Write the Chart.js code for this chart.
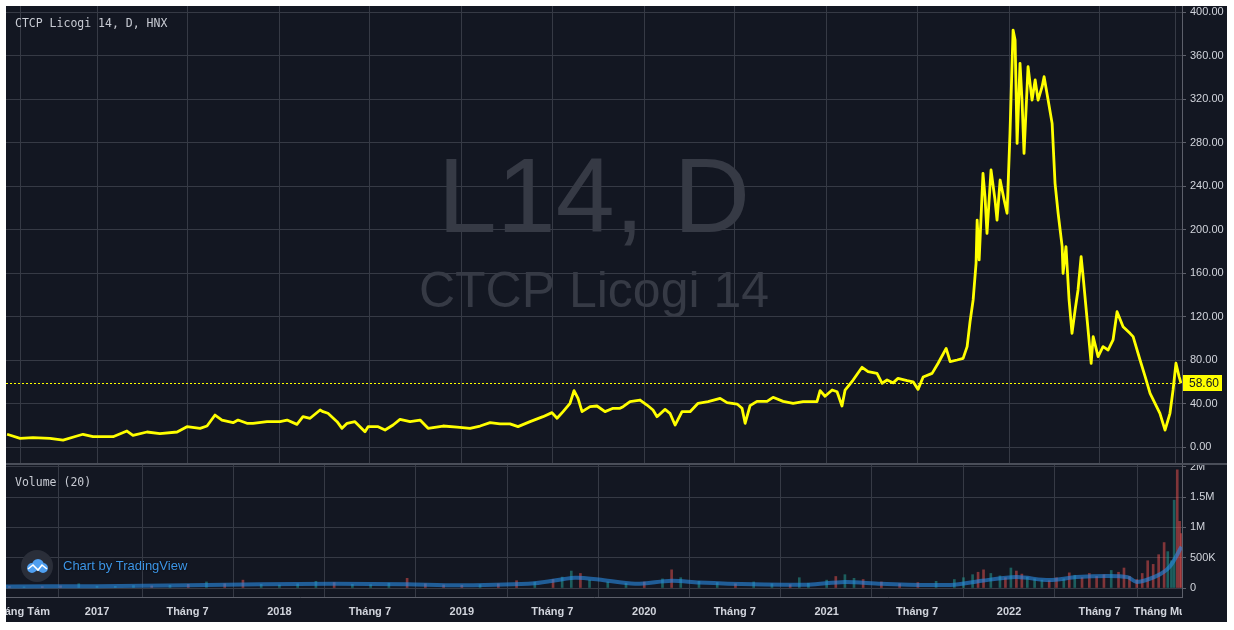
<!DOCTYPE html>
<html>
<head>
<meta charset="utf-8">
<title>L14, D</title>
<script src="https://cdn.jsdelivr.net/npm/chart.js@4.4.0/dist/chart.umd.min.js"></script>
<style>
  html, body { margin: 0; padding: 0; background: #ffffff; }
  #wrap { position: absolute; left: 6px; top: 6px; width: 1221px; height: 616px; background: #131722; overflow: hidden; }
  #priceChart { position: absolute; left: 0; top: 0; }
  #volChart { position: absolute; left: 0; top: 457px; }
</style>
</head>
<body>
<div id="wrap">
  <canvas id="priceChart" width="1221" height="457"></canvas>
  <canvas id="volChart" width="1221" height="159"></canvas>
</div>
<script>
// Giá đóng cửa (decimal year / price)
var dates = [
  2016.507, 2016.578, 2016.649, 2016.742, 2016.814, 2016.890, 2016.923, 2016.978, 2017.088, 2017.164,
  2017.197, 2017.274, 2017.345, 2017.439, 2017.493, 2017.565, 2017.603, 2017.647, 2017.685, 2017.746,
  2017.773, 2017.822, 2017.855, 2017.932, 2018.003, 2018.042, 2018.096, 2018.129, 2018.168, 2018.223,
  2018.239, 2018.266, 2018.316, 2018.343, 2018.371, 2018.414, 2018.469, 2018.486, 2018.541, 2018.579,
  2018.623, 2018.661, 2018.716, 2018.771, 2018.815, 2018.897, 2018.974, 2019.045, 2019.100, 2019.155,
  2019.209, 2019.264, 2019.308, 2019.374, 2019.445, 2019.494, 2019.522, 2019.555, 2019.593, 2019.615,
  2019.637, 2019.659, 2019.703, 2019.741, 2019.785, 2019.829, 2019.867, 2019.884, 2019.922, 2019.977,
  2020.015, 2020.048, 2020.070, 2020.114, 2020.141, 2020.169, 2020.207, 2020.251, 2020.295, 2020.350,
  2020.416, 2020.454, 2020.509, 2020.536, 2020.553, 2020.580, 2020.618, 2020.673, 2020.706, 2020.761,
  2020.816, 2020.871, 2020.947, 2020.964, 2020.991, 2021.030, 2021.057, 2021.084, 2021.101, 2021.145,
  2021.194, 2021.227, 2021.276, 2021.304, 2021.331, 2021.364, 2021.391, 2021.441, 2021.474, 2021.501,
  2021.529, 2021.578, 2021.611, 2021.655, 2021.677, 2021.715, 2021.748, 2021.770, 2021.786, 2021.803,
  2021.819, 2021.825, 2021.836, 2021.857, 2021.868, 2021.879, 2021.901, 2021.923, 2021.934, 2021.951,
  2021.973, 2021.989, 2022.005, 2022.022, 2022.033, 2022.044, 2022.060, 2022.071, 2022.082, 2022.104,
  2022.126, 2022.143, 2022.159, 2022.181, 2022.192, 2022.214, 2022.236, 2022.252, 2022.269, 2022.291,
  2022.296, 2022.312, 2022.329, 2022.345, 2022.362, 2022.378, 2022.395, 2022.406, 2022.428, 2022.450,
  2022.461, 2022.488, 2022.515, 2022.543, 2022.570, 2022.592, 2022.625, 2022.663, 2022.680, 2022.718,
  2022.746, 2022.773, 2022.800, 2022.827, 2022.855, 2022.882, 2022.899, 2022.915, 2022.932, 2022.943
];
var closes = [
  11.7, 8.0, 8.6, 8.0, 6.4, 10.1, 11.7, 9.5, 9.5, 14.7,
  10.7, 13.8, 12.3, 13.8, 18.7, 17.2, 19.3, 29.4, 24.8, 22.4,
  24.8, 21.8, 21.8, 23.3, 23.3, 24.8, 20.8, 27.9, 26.4, 34.0,
  32.5, 31.0, 23.3, 17.2, 21.8, 23.3, 14.1, 18.7, 18.7, 15.6,
  20.2, 25.4, 23.3, 24.8, 17.2, 19.3, 18.2, 17.2, 19.3, 22.4,
  21.3, 21.3, 18.7, 23.3, 27.9, 31.6, 26.4, 32.5, 40.2, 51.8,
  44.7, 32.5, 37.1, 37.7, 32.5, 35.6, 35.6, 37.1, 41.7, 43.2,
  38.6, 34.0, 27.9, 34.6, 31.0, 20.2, 32.5, 32.5, 40.2, 41.7,
  44.7, 40.8, 39.5, 35.6, 21.8, 38.0, 42.0, 42.0, 45.7, 42.0,
  40.2, 41.7, 41.7, 51.8, 46.7, 52.4, 50.8, 37.7, 52.4, 61.6,
  73.3, 69.3, 67.7, 58.6, 61.6, 59.0, 63.1, 61.0, 60.0, 53.0,
  64.4, 67.7, 77.0, 90.7, 78.5, 80.0, 81.5, 92.3, 115.2, 135.2,
  168.9, 208.7, 172.0, 251.6, 230.2, 196.5, 254.7, 227.1, 208.7, 245.5,
  227.1, 214.9, 288.4, 383.4, 374.3, 279.2, 352.8, 319.0, 270.0, 349.7,
  319.0, 337.5, 319.0, 331.3, 340.5, 319.0, 297.6, 242.5, 214.9, 184.2,
  159.7, 184.2, 135.2, 104.5, 126.0, 144.4, 175.0, 156.6, 116.8, 76.9,
  101.5, 83.1, 92.3, 89.2, 98.4, 124.4, 110.6, 104.5, 101.5, 80.0,
  64.7, 49.3, 40.2, 31.0, 15.6, 31.0, 52.4, 77.0, 64.7, 58.6
];

// Khối lượng (nghìn cp)
var volDates = [
  2016.52, 2016.60, 2016.70, 2016.80, 2016.90, 2017.00, 2017.10, 2017.20, 2017.30, 2017.40,
  2017.50, 2017.60, 2017.70, 2017.80, 2017.90, 2018.00, 2018.10, 2018.20, 2018.30, 2018.40,
  2018.50, 2018.60, 2018.70, 2018.80, 2018.90, 2019.00, 2019.10, 2019.20, 2019.30, 2019.40,
  2019.50, 2019.55, 2019.60, 2019.65, 2019.70, 2019.80, 2019.90, 2020.00, 2020.10, 2020.15,
  2020.20, 2020.30, 2020.40, 2020.50, 2020.60, 2020.70, 2020.80, 2020.85, 2020.90, 2021.00,
  2021.05, 2021.10, 2021.15, 2021.20, 2021.30, 2021.40, 2021.50, 2021.60, 2021.70, 2021.75,
  2021.80, 2021.83, 2021.86, 2021.90, 2021.95, 2021.98, 2022.01, 2022.04, 2022.07, 2022.10,
  2022.14, 2022.18, 2022.22, 2022.26, 2022.30, 2022.33, 2022.36, 2022.40, 2022.44, 2022.48,
  2022.52, 2022.56, 2022.60, 2022.63, 2022.66, 2022.70, 2022.73, 2022.76, 2022.79, 2022.82,
  2022.85, 2022.87, 2022.89, 2022.905, 2022.922, 2022.935, 2022.945
];
var volumes = [
  25, 18, 22, 35, 70, 30, 28, 40, 35, 45,
  60, 100, 70, 130, 60, 50, 70, 110, 90, 60,
  55, 80, 160, 70, 50, 45, 55, 70, 120, 100,
  140, 180, 280, 240, 130, 100, 80, 100, 150, 300,
  170, 110, 90, 70, 100, 70, 55, 170, 80, 130,
  190, 220, 160, 140, 100, 70, 90, 110, 140, 170,
  220, 260, 300, 240, 200, 170, 330, 280, 230, 180,
  150, 130, 120, 170, 150, 250, 210, 170, 240, 190,
  220, 290, 260, 330, 190, 140, 240, 450, 390, 550,
  750, 600, 450, 1450, 1950, 1100, 900
];
var maDates = [
  2016.50, 2017.00, 2017.50, 2017.90, 2018.30, 2018.70, 2019.00, 2019.40, 2019.62, 2019.75,
  2019.95, 2020.15, 2020.30, 2020.60, 2020.90, 2021.10, 2021.30, 2021.68, 2021.85, 2022.04,
  2022.22, 2022.37, 2022.54, 2022.65, 2022.70, 2022.81, 2022.88, 2022.945
];
var volMA = [
  25, 30, 45, 60, 70, 60, 45, 80, 170, 140,
  70, 120, 90, 60, 55, 100, 70, 50, 120, 180,
  130, 180, 200, 180, 100, 200, 350, 680
];

// Trục
var priceTicks = [0, 40, 80, 120, 160, 200, 240, 280, 320, 360, 400];
var volTicks = [0, 500, 1000, 1500, 2000];
var volTickLabels = ['0', '500K', '1M', '1.5M', '2M'];
var timeTicks = [2016.581, 2017, 2017.496, 2018, 2018.496, 2019, 2019.496, 2020, 2020.496, 2021, 2021.496, 2022, 2022.496, 2022.915];
var timeLabels = ['Tháng Tám', '2017', 'Tháng 7', '2018', 'Tháng 7', '2019', 'Tháng 7', '2020', 'Tháng 7', '2021', 'Tháng 7', '2022', 'Tháng 7', 'Tháng Mười Hai'];

var xMin = 2016.501, xMax = 2022.948;
var gridColor = '#363a45';
var borderColor = '#5d606b';
var textColor = '#d1d4dc';
var axisFont = '"Liberation Sans", Arial, sans-serif';
var lastPrice = closes[closes.length - 1];

var pricePoints = dates.map(function(d, i) { return { x: d, y: closes[i] }; });
var volPoints = volDates.map(function(d, i) { return { x: d, y: volumes[i] }; });
var maPoints = maDates.map(function(d, i) { return { x: d, y: volMA[i] }; });

// màu cột khối lượng theo hướng giá của đoạn chứa ngày đó
var volColors = volDates.map(function(d) {
  var i = 0;
  while (i < dates.length - 2 && dates[i + 1] <= d) i++;
  var up = closes[i + 1] >= closes[i];
  return up ? 'rgba(38,166,154,0.5)' : 'rgba(239,83,80,0.5)';
});

function noPadding(scale) {
  scale.paddingTop = 0;
  scale.paddingBottom = 0;
  scale.paddingLeft = 0;
  scale.paddingRight = 0;
}

var pricePanePlugin = {
  id: 'pricePane',
  beforeDatasetsDraw: function(chart) {
    var ctx = chart.ctx, area = chart.chartArea;
    var cx = (area.left + area.right) / 2;
    ctx.save();
    ctx.fillStyle = '#363a45';
    ctx.textAlign = 'center';
    ctx.textBaseline = 'alphabetic';
    ctx.font = '106px ' + axisFont;
    ctx.fillText('L14, D', cx, 226);
    ctx.font = '50px ' + axisFont;
    ctx.fillText('CTCP Licogi 14', cx, 301);

    var y = Math.round(chart.scales.y.getPixelForValue(lastPrice)) + 0.5;
    ctx.strokeStyle = '#ffff00';
    ctx.lineWidth = 1;
    ctx.setLineDash([2, 2]);
    ctx.beginPath();
    ctx.moveTo(area.left, y);
    ctx.lineTo(area.right, y);
    ctx.stroke();
    ctx.restore();
  },
  afterDraw: function(chart) {
    var ctx = chart.ctx, area = chart.chartArea;
    ctx.save();
    ctx.fillStyle = '#c8cbd3';
    ctx.font = '11.5px "DejaVu Sans Mono", monospace';
    ctx.textBaseline = 'middle';
    ctx.fillText('CTCP Licogi 14, D, HNX', 9, 18);

    var y = chart.scales.y.getPixelForValue(lastPrice);
    ctx.fillStyle = '#ffff00';
    ctx.fillRect(area.right + 1, Math.round(y) - 8, 39, 16);
    ctx.fillStyle = '#131722';
    ctx.font = '12px ' + axisFont;
    ctx.textAlign = 'left';
    ctx.fillText(lastPrice.toFixed(2), area.right + 7, Math.round(y) + 0.5);
    ctx.restore();
  }
};

var volPanePlugin = {
  id: 'volPane',
  afterDraw: function(chart) {
    var ctx = chart.ctx, area = chart.chartArea, xs = chart.scales.x;
    ctx.save();
    // đường phân cách 2 pane
    ctx.fillStyle = '#4a4e59';
    ctx.fillRect(0, 0, chart.width, 2);

    ctx.fillStyle = '#c8cbd3';
    ctx.font = '11.5px "DejaVu Sans Mono", monospace';
    ctx.textBaseline = 'middle';
    ctx.fillText('Volume (20)', 9, 20);

    // logo TradingView
    var cx = 31, cy = 103;
    ctx.fillStyle = '#2a2e39';
    ctx.beginPath();
    ctx.arc(cx, cy, 16, 0, Math.PI * 2);
    ctx.fill();
    ctx.fillStyle = '#4f9ff0';
    ctx.beginPath();
    ctx.arc(cx - 5, cy + 2, 5, 0, Math.PI * 2);
    ctx.moveTo(cx + 7, cy - 1);
    ctx.arc(cx + 1, cy - 1, 6, 0, Math.PI * 2);
    ctx.moveTo(cx + 11, cy + 2);
    ctx.arc(cx + 6, cy + 2, 5, 0, Math.PI * 2);
    ctx.fill();
    ctx.strokeStyle = '#ffffff';
    ctx.lineWidth = 1.6;
    ctx.beginPath();
    ctx.moveTo(cx - 9, cy + 3);
    ctx.lineTo(cx - 4, cy - 1);
    ctx.lineTo(cx + 1, cy + 4);
    ctx.lineTo(cx + 5, cy - 1);
    ctx.lineTo(cx + 10, cy + 3);
    ctx.stroke();

    ctx.font = '13px ' + axisFont;
    ctx.shadowColor = 'rgba(0,0,0,0.9)';
    ctx.shadowBlur = 2;
    ctx.fillStyle = '#3d95e6';
    ctx.fillText('Chart by TradingView', 57, cy);
    ctx.shadowBlur = 0;

    // nhãn thời gian
    ctx.beginPath();
    ctx.rect(area.left, area.bottom, area.right - area.left, chart.height - area.bottom);
    ctx.clip();
    ctx.fillStyle = textColor;
    ctx.font = 'bold 11px ' + axisFont;
    ctx.textAlign = 'center';
    timeTicks.forEach(function(t, i) {
      ctx.fillText(timeLabels[i], xs.getPixelForValue(t), 149);
    });
    ctx.restore();
  }
};

var xAxisBase = {
  type: 'linear',
  min: xMin,
  max: xMax,
  afterBuildTicks: function(scale) {
    scale.ticks = timeTicks.map(function(v) { return { value: v }; });
  },
  grid: { color: gridColor, lineWidth: 1, drawTicks: false },
  ticks: { display: false },
  border: { display: false }
};

new Chart(document.getElementById('priceChart'), {
  type: 'line',
  data: {
    datasets: [{
      data: pricePoints,
      borderColor: '#ffff00',
      borderWidth: 2.8,
      pointRadius: 0,
      tension: 0,
      borderJoinStyle: 'round'
    }]
  },
  options: {
    responsive: false,
    animation: false,
    layout: { padding: 0 },
    plugins: { legend: { display: false }, tooltip: { enabled: false } },
    scales: {
      x: Object.assign({}, xAxisBase, {
        afterFit: function(scale) { scale.height = 0; noPadding(scale); }
      }),
      y: {
        position: 'right',
        min: -14.71,
        max: 405.52,
        afterBuildTicks: function(scale) {
          scale.ticks = priceTicks.map(function(v) { return { value: v }; });
        },
        afterFit: function(scale) { scale.width = 45; noPadding(scale); },
        grid: { color: gridColor, tickColor: borderColor, tickLength: 4 },
        border: { color: borderColor, width: 1 },
        ticks: {
          color: textColor,
          padding: 4,
          font: { family: axisFont, size: 11 },
          callback: function(v) { return v.toFixed(2); }
        }
      }
    }
  },
  plugins: [pricePanePlugin]
});

new Chart(document.getElementById('volChart'), {
  type: 'bar',
  data: {
    datasets: [{
      type: 'line',
      data: maPoints,
      borderColor: 'rgba(41,140,230,0.6)',
      borderWidth: 4,
      pointRadius: 0,
      tension: 0.3,
      order: 0
    }, {
      type: 'bar',
      data: volPoints,
      backgroundColor: volColors,
      barThickness: 2,
      order: 1
    }]
  },
  options: {
    responsive: false,
    animation: false,
    layout: { padding: 0 },
    plugins: { legend: { display: false }, tooltip: { enabled: false } },
    scales: {
      x: Object.assign({}, xAxisBase, {
        offset: false,
        border: { display: true, color: borderColor },
        afterFit: function(scale) { scale.height = 25; noPadding(scale); }
      }),
      y: {
        position: 'right',
        min: -148.5,
        max: 2062.7,
        afterBuildTicks: function(scale) {
          scale.ticks = volTicks.map(function(v) { return { value: v }; });
        },
        afterFit: function(scale) { scale.width = 45; noPadding(scale); },
        grid: { color: gridColor, tickColor: borderColor, tickLength: 4 },
        border: { color: borderColor, width: 1 },
        ticks: {
          color: textColor,
          padding: 4,
          font: { family: axisFont, size: 11 },
          callback: function(v) { return volTickLabels[volTicks.indexOf(v)]; }
        }
      }
    }
  },
  plugins: [volPanePlugin]
});
</script>
</body>
</html>
